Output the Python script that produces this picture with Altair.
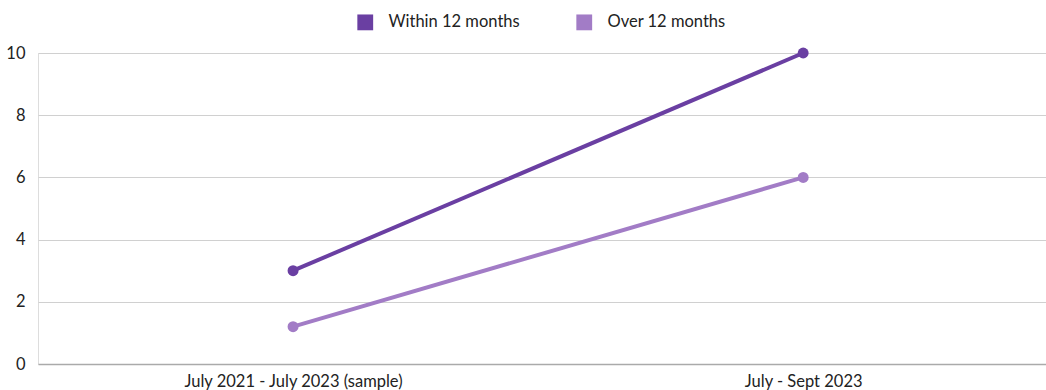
import altair as alt
import pandas as pd

periods = ["July 2021 - July 2023 (sample)", "July - Sept 2023"]
series_names = ["Within 12 months", "Over 12 months"]
within_vals = [3, 10]
over_vals = [1.2, 6]
colors = ["#6A3FA2", "#A27CC6"]

rows = []
for i, (p, v) in enumerate(zip(periods, within_vals)):
    rows.append({"idx": i, "period": p, "series": series_names[0], "value": v})
for i, (p, v) in enumerate(zip(periods, over_vals)):
    rows.append({"idx": i, "period": p, "series": series_names[1], "value": v})
df = pd.DataFrame(rows)

FONT = "Lato"
FS = 16.5
label_expr = "[" + ", ".join("'" + p + "'" for p in periods) + "][datum.value]"

x = alt.X("idx:Q", title=None,
          scale=alt.Scale(domain=[-0.5, 1.476], nice=False, zero=False),
          axis=alt.Axis(values=[0, 1], labelExpr=label_expr, labelAngle=0,
                        labelFontSize=FS, labelColor="#222222", labelLimit=500,
                        labelFont=FONT, domain=False, ticks=False, labelPadding=9,
                        grid=False))
y = alt.Y("value:Q", title=None,
          scale=alt.Scale(domain=[0, 10]),
          axis=alt.Axis(values=[0, 2, 4, 6, 8, 10], labelFontSize=FS, labelColor="#222222",
                        labelFont=FONT, domain=False, ticks=False, labelPadding=13,
                        grid=True,
                        gridColor={"condition": {"test": "datum.value === 0", "value": "#AAAAAA"},
                                   "value": "#D0D0D0"},
                        gridWidth={"condition": {"test": "datum.value === 0", "value": 1.5},
                                   "value": 1}))
color = alt.Color("series:N", sort=series_names, title=None,
                  scale=alt.Scale(domain=series_names, range=colors),
                  legend=alt.Legend(orient="none", direction="horizontal",
                                    legendX=319, legendY=-39,
                                    symbolType="square", symbolSize=250,
                                    symbolStrokeWidth=0, symbolOpacity=1,
                                    labelFontSize=FS, labelFont=FONT, labelColor="#222222",
                                    columnPadding=56, labelOffset=15))

base = alt.Chart(df).encode(x=x, y=y, color=color)
lines = base.mark_line(strokeWidth=4)
points = base.mark_circle(size=120, opacity=1)

chart = (lines + points).properties(
    width=1008, height=311,
    autosize=alt.AutoSizeParams(type="none"),
    padding={"left": 38, "top": 53, "right": 0, "bottom": 26},
).configure_view(stroke="transparent", strokeWidth=0).configure_axis(
    domain=False
).configure(background="white")

chart.save("out.html", embed_options={"renderer": "svg", "actions": False})
